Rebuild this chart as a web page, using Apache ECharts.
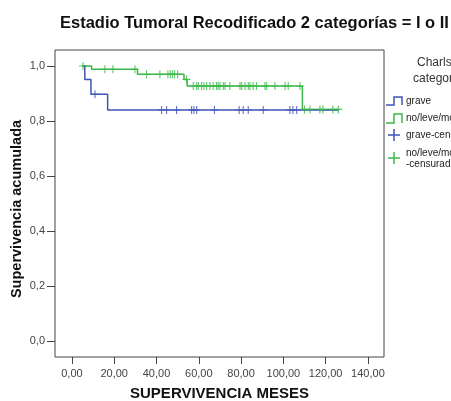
<!DOCTYPE html>
<html>
<head>
<meta charset="utf-8">
<script src="https://cdn.jsdelivr.net/npm/echarts@6/dist/echarts.min.js"></script>
<style>html,body{margin:0;padding:0;background:#fff;}#c{width:451px;height:401px;}</style>
</head>
<body>
<div id="c"></div>
<script>
// Kaplan-Meier step curves (time in months, cumulative survival)
var graveTimes = [5, 6.1, 9, 16.9, 126];
var graveSurv  = [1, 0.951, 0.897, 0.84, 0.84];
var noLeveTimes = [5, 9.3, 31, 53, 54.5, 109, 126.5];
var noLeveSurv  = [1, 0.988, 0.97, 0.951, 0.927, 0.842, 0.842];
// Censored observations
var graveCensT = [10.9, 42.4, 44.8, 49.5, 56.6, 57.7, 59, 67.4, 79.1, 81, 83.4, 90.5, 103.1, 104.5, 106.3];
var graveCensS = [0.897, 0.84, 0.84, 0.84, 0.84, 0.84, 0.84, 0.84, 0.84, 0.84, 0.84, 0.84, 0.84, 0.84, 0.84];
var noLeveCensT = [5.2, 15.6, 19.4, 29.8, 35.3, 41.6, 45.4, 46.5, 47.5, 48.5, 50, 54.2,
  57.4, 59, 59.8, 61.3, 62.4, 63.7, 65.3, 66.8, 68.4, 69.2, 70, 71.6, 72.4, 74.7, 79.5, 80.3, 81.9, 83.4, 84.2, 85.7, 87.3, 91.3, 92.1, 96, 100.8, 102.3, 107.9,
  110, 112.6, 117.3, 118.7, 123.4, 126];
var noLeveCensS = [1, 0.988, 0.988, 0.988, 0.97, 0.97, 0.97, 0.97, 0.97, 0.97, 0.97, 0.951,
  0.927, 0.927, 0.927, 0.927, 0.927, 0.927, 0.927, 0.927, 0.927, 0.927, 0.927, 0.927, 0.927, 0.927, 0.927, 0.927, 0.927, 0.927, 0.927, 0.927, 0.927, 0.927, 0.927, 0.927, 0.927, 0.927, 0.927,
  0.842, 0.842, 0.842, 0.842, 0.842, 0.842];
var xTicks = [0, 20, 40, 60, 80, 100, 120, 140];
var yTicks = [0, 0.2, 0.4, 0.6, 0.8, 1.0];
var titleText = 'Estadio Tumoral Recodificado 2 categorías = I o II';
var xName = 'SUPERVIVENCIA MESES';
var yName = 'Supervivencia acumulada';
var legendTitle = ['Charlson', 'categorías'];
var legendNames = ['grave', 'no/leve/moderado', 'grave-censurado', 'no/leve/moderado', '-censurado'];

var BLUE = '#3f55b5';
var GREEN = '#3cb84a';
var PLUS = 'path://M4.3,0 H5.7 V4.3 H10 V5.7 H5.7 V10 H4.3 V5.7 H0 V4.3 H4.3 Z';

function zip(a, b) { return a.map(function (v, i) { return [v, b[i]]; }); }

var chart = echarts.init(document.getElementById('c'), null, {renderer: 'canvas'});
var font = '"Liberation Sans", Arial, sans-serif';
chart.setOption({
  animation: false,
  backgroundColor: '#fff',
  textStyle: {fontFamily: font},
  title: {
    text: titleText, left: 55, top: 10,
    textStyle: {fontSize: 16.5, fontWeight: 'bold', color: '#111', fontFamily: font}
  },
  grid: {left: 55, right: 67, top: 50, bottom: 44, show: true, borderColor: '#444', borderWidth: 1,
    backgroundColor: 'transparent', containLabel: false, outerBoundsMode: 'none'},
  xAxis: {
    type: 'value', min: -8, max: 147.6,
    name: xName, nameLocation: 'middle', nameGap: 29,
    nameTextStyle: {fontSize: 15, fontWeight: 'bold', color: '#111', fontFamily: font},
    axisLine: {show: false, onZero: false},
    splitLine: {show: false},
    axisTick: {show: true, length: 7, inside: false, customValues: xTicks, lineStyle: {color: '#444'}},
    axisLabel: {customValues: xTicks, margin: 11, fontSize: 11, color: '#444', fontFamily: font,
      formatter: function (v) { return v.toFixed(2).replace('.', ','); }}
  },
  yAxis: {
    type: 'value', min: -0.058, max: 1.058,
    axisLine: {show: false, onZero: false},
    splitLine: {show: false},
    axisTick: {show: true, length: 8, inside: false, customValues: yTicks, lineStyle: {color: '#444'}},
    axisLabel: {customValues: yTicks, margin: 10, fontSize: 11, color: '#444', fontFamily: font,
      formatter: function (v) { return v.toFixed(1).replace('.', ','); }}
  },
  graphic: [
    {type: 'text', x: 17, y: 209, rotation: Math.PI / 2, style: {text: yName, fill: '#111', font: 'bold 14.5px ' + font, align: 'center', verticalAlign: 'middle'}},
    {type: 'text', x: 417, y: 63, style: {text: legendTitle[0], font: '12px ' + font, fill: '#333', verticalAlign: 'middle'}},
    {type: 'text', x: 413, y: 79, style: {text: legendTitle[1], font: '12px ' + font, fill: '#333', verticalAlign: 'middle'}},
    {type: 'polyline', shape: {points: [[386, 105], [394, 105], [394, 97], [402, 97], [402, 105]]}, style: {stroke: BLUE, lineWidth: 1.5, fill: null}},
    {type: 'text', x: 406, y: 101, style: {text: legendNames[0], font: '10px ' + font, fill: '#222', verticalAlign: 'middle'}},
    {type: 'polyline', shape: {points: [[386, 123], [394, 123], [394, 114], [402, 114], [402, 123]]}, style: {stroke: GREEN, lineWidth: 1.5, fill: null}},
    {type: 'text', x: 406, y: 118, style: {text: legendNames[1], font: '10px ' + font, fill: '#222', verticalAlign: 'middle'}},
    {type: 'polyline', shape: {points: [[388, 135], [400, 135]]}, style: {stroke: BLUE, lineWidth: 1.5}},
    {type: 'polyline', shape: {points: [[394, 129], [394, 141]]}, style: {stroke: BLUE, lineWidth: 1.5}},
    {type: 'text', x: 406, y: 135, style: {text: legendNames[2], font: '10px ' + font, fill: '#222', verticalAlign: 'middle'}},
    {type: 'polyline', shape: {points: [[388, 158], [400, 158]]}, style: {stroke: GREEN, lineWidth: 1.5}},
    {type: 'polyline', shape: {points: [[394, 152], [394, 164]]}, style: {stroke: GREEN, lineWidth: 1.5}},
    {type: 'text', x: 406, y: 153, style: {text: legendNames[3], font: '10px ' + font, fill: '#222', verticalAlign: 'middle'}},
    {type: 'text', x: 406, y: 164, style: {text: legendNames[4], font: '10px ' + font, fill: '#222', verticalAlign: 'middle'}}
  ],
  series: [
    {type: 'line', step: 'end', data: zip(noLeveTimes, noLeveSurv), showSymbol: false, symbol: 'none',
      lineStyle: {color: GREEN, width: 1.5}, z: 2},
    {type: 'line', step: 'end', data: zip(graveTimes, graveSurv), showSymbol: false, symbol: 'none',
      lineStyle: {color: BLUE, width: 1.5}, z: 3},
    {type: 'scatter', data: zip(noLeveCensT, noLeveCensS), symbol: PLUS, symbolSize: 8,
      itemStyle: {color: GREEN}, z: 4},
    {type: 'scatter', data: zip(graveCensT, graveCensS), symbol: PLUS, symbolSize: 8,
      itemStyle: {color: BLUE}, z: 5}
  ]
});
</script>
</body>
</html>
